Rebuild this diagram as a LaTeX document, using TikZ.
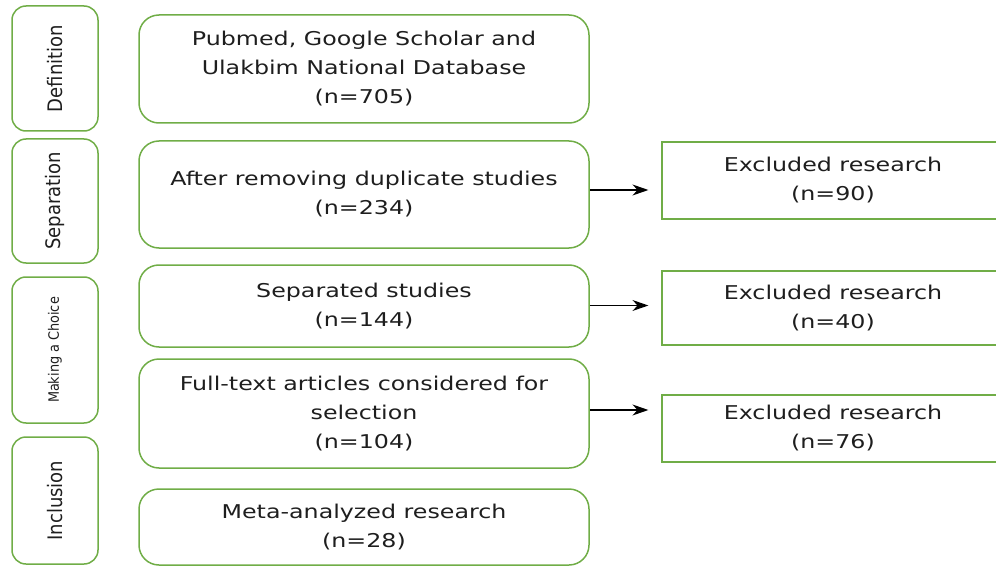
\documentclass[tikz,border=0pt]{standalone}
\usepackage{fontspec}
\setmainfont{DejaVu Sans}[FakeStretch=1.25]
\newfontfamily\condfont{DejaVu Sans Condensed}
\usepackage{xcolor}
\usetikzlibrary{arrows.meta}
\definecolor{boxgreen}{RGB}{112,173,71}
\definecolor{txtgray}{RGB}{30,30,30}
\newcommand{\stagex}{55}
\newcommand{\midx}{364}
\newcommand{\exclx}{833}

\begin{document}
\begin{tikzpicture}[x=1pt, y=-1pt, >={Stealth[length=16pt,width=11pt]},
    stage/.style={draw=boxgreen, line width=1.5pt, rounded corners=14pt,
        inner sep=0pt, minimum height=86pt, rotate=90, text=txtgray,
        font=\condfont\fontsize{20}{24}\selectfont},
    phase/.style={draw=boxgreen, line width=1.5pt, rounded corners=20pt,
        inner sep=0pt, minimum width=450pt, align=center, text=txtgray,
        font=\fontsize{19}{29}\selectfont},
    excl/.style={draw=boxgreen, line width=1.2pt, inner sep=0pt,
        minimum width=342pt, align=center, text=txtgray,
        font=\fontsize{19}{29}\selectfont}]
    \useasboundingbox (0, 0) rectangle (996, 567);

    % stages on the left
    \node[stage, minimum width=125pt] (def) at (\stagex, 68.5) {Definition};
    \node[stage, minimum width=124pt] (sep) at (\stagex, 201) {Separation};
    \node[stage, minimum width=146pt, font=\condfont\fontsize{14.3}{17}\selectfont]
        (cho) at (\stagex, 350) {Making a Choice};
    \node[stage, minimum width=127pt] (inc) at (\stagex, 500.5) {Inclusion};

    % main column
    \node[phase, minimum height=108pt] (m1) at (\midx, 69)
        {Pubmed, Google Scholar and\\Ulakbim National Database\\(n=705)};
    \node[phase, minimum height=107pt] (m2) at (\midx, 194.5)
        {After removing duplicate studies\\(n=234)};
    \node[phase, minimum height=82pt] (m3) at (\midx, 306)
        {Separated studies\\(n=144)};
    \node[phase, minimum height=109pt] (m4) at (\midx, 413.5)
        {Full-text articles considered for\\selection\\(n=104)};
    \node[phase, minimum height=76pt] (m5) at (\midx, 527)
        {Meta-analyzed research\\(n=28)};

    % excluded boxes
    \node[excl, minimum height=77pt] (r1) at (\exclx, 180.5)
        {Excluded research\\(n=90)};
    \node[excl, minimum height=74pt] (r2) at (\exclx, 308)
        {Excluded research\\(n=40)};
    \node[excl, minimum height=67pt] (r3) at (\exclx, 428.5)
        {Excluded research\\(n=76)};

    \draw[->, line width=1.2pt, shorten >=13pt] ([yshift=4.5pt]m2.east) -- ([yshift=4.5pt]m2.east -| r1.west);
    \draw[->, line width=1.2pt, shorten >=13pt] ([yshift=0.5pt]m3.east) -- ([yshift=0.5pt]m3.east -| r2.west);
    \draw[->, line width=1.2pt, shorten >=13pt] ([yshift=3.5pt]m4.east) -- ([yshift=3.5pt]m4.east -| r3.west);
\end{tikzpicture}
\end{document}
